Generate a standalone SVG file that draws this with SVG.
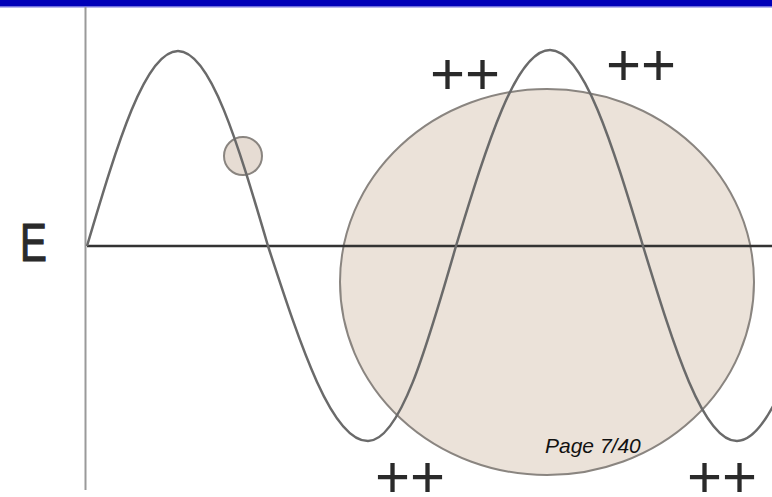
<svg xmlns="http://www.w3.org/2000/svg" width="772" height="497" viewBox="0 0 772 497">
<style>
.plus{font-family:"Liberation Sans",Arial,sans-serif;font-size:60px;fill:#2a2a2a;text-anchor:middle}
.wave{fill:none;stroke:#6a6a6a;stroke-width:2.5}
</style>
<rect x="0" y="0" width="772" height="497" fill="#ffffff"/>
<g id="topbar">
<rect x="0" y="0" width="772" height="6" fill="#0000b8"/>
<rect x="0" y="6" width="772" height="1.5" fill="#7070dd"/>
</g>
<g id="big-circle">
<ellipse cx="547" cy="282" rx="207" ry="193" fill="#ebe2d9" stroke="#8a8580" stroke-width="2"/>
</g>
<g id="small-circle">
<circle cx="243" cy="156" r="19" fill="#e6dcd3" stroke="#8a8580" stroke-width="2"/>
</g>
<g id="axes">
<line x1="85.5" y1="7" x2="85.5" y2="490" stroke="#9a9a9a" stroke-width="2"/>
<line x1="87" y1="246" x2="772" y2="246" stroke="#333333" stroke-width="2.5"/>
</g>
<g id="wave">
<path class="wave" d="M87,246 C117.4,143.6 145.1,51 178,51 C210.5,51 237.9,143.6 268,246 C301.4,348.4 331.9,441 368,441 C399.8,441 426.6,348.4 456,246 C487.4,143.1 516,50 550,50 C583.6,50 611.9,143.1 643,246 C674.4,348.4 703,441 737,441 C770.6,441 798.9,348.4 830,246"/>
</g>
<g id="labels">
<text transform="translate(20,261) scale(0.76,1)" x="0" y="0" font-family="Liberation Sans, Arial, sans-serif" font-size="53" fill="#2a2a2a" stroke="#2a2a2a" stroke-width="1.2">E</text>
<text class="plus" x="465" y="94">++</text>
<text class="plus" x="641" y="85">++</text>
<text class="plus" x="410" y="497">++</text>
<text class="plus" x="722" y="497">++</text>
<text x="545" y="453" font-family="Liberation Sans, Arial, sans-serif" font-style="italic" font-size="21" fill="#111111">Page 7/40</text>
</g>
</svg>
